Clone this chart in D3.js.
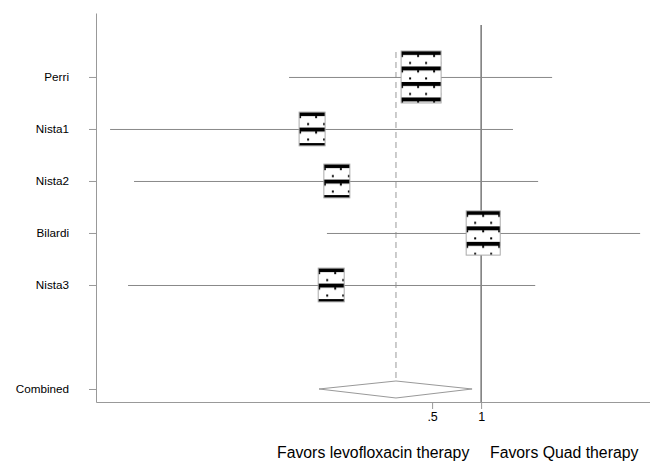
<!DOCTYPE html>
<html>
<head>
<meta charset="utf-8">
<script src="https://cdn.jsdelivr.net/npm/d3@7"></script>
<style>
    body { margin: 0; background: #fff; }
    text { font-family: "Liberation Sans", Arial, sans-serif; }
</style>
</head>
<body>
<svg></svg>
<script>
//study names, odds ratios, confidence limits and weights
const studies = ["Perri", "Nista1", "Nista2", "Bilardi", "Nista3"]
const estimates = [0.428, 0.0916, 0.130, 1.03, 0.120]
const lowerCI = [0.0661, 0.00526, 0.00738, 0.113, 0.00678]
const upperCI = [2.73, 1.57, 2.24, 9.48, 2.15]
const weights = [33.4, 14.1, 14.1, 24.2, 14.1]

//pooled estimate
const combinedLabel = "Combined"
const combined = [0.101, 0.300, 0.88]

const xTicks = [0.5, 1]
const xTickLabels = [".5", "1"]
const leftNote = "Favors levofloxacin therapy"
const rightNote = "Favors Quad therapy"

const svgWidth = 650
const svgHeight = 461

const svg = d3.select('svg')
    .attr("width", svgWidth)
    .attr("height", svgHeight)

// log scale for the ratios
const xScale = d3.scaleLog()
    .domain([0.00431, 10.9])
    .range([96, 650])

// rows: studies on 1..5, combined on row 7
const yScale = d3.scaleLinear()
    .domain([-0.23, 7.25])
    .range([13, 402])

const rows = studies.map((s, i) => ({
    name: s, est: estimates[i], lo: lowerCI[i], hi: upperCI[i], w: weights[i], row: i + 1
}))

//box side grows with sqrt of weight so area follows the weight
const sizeScale = d3.scaleSqrt()
    .domain([0, d3.max(weights)])
    .range([0, 40])

//no effect line
svg.append('line')
    .attr('x1', xScale(1)).attr('x2', xScale(1))
    .attr('y1', 25).attr('y2', yScale(7.25))
    .attr('stroke', '#333')
    .attr('stroke-width', 1)

//dashed line at the pooled estimate
svg.append('line')
    .attr('x1', xScale(combined[1])).attr('x2', xScale(combined[1]))
    .attr('y1', 52).attr('y2', yScale(7.25))
    .attr('stroke', '#999')
    .attr('stroke-dasharray', '6,4')

// axes
svg.append('g')
    .attr('transform', `translate(0, ${yScale(7.25)})`)
    .call(d3.axisBottom(xScale)
        .tickValues(xTicks)
        .tickFormat((d, i) => xTickLabels[i])
        .tickSize(7)
        .tickSizeOuter(0)
        .tickPadding(3))
    .call(g => g.select('.domain').attr('stroke', '#999'))
    .call(g => g.selectAll('.tick line').attr('stroke', '#999'))
    .call(g => g.selectAll('.tick text')
        .attr('font-size', 12.5)
        .attr('fill', '#000')
        .style('font-family', '"Liberation Sans", Arial, sans-serif'))

svg.append('g')
    .attr('transform', `translate(96, 0)`)
    .call(d3.axisLeft(yScale)
        .tickValues(rows.map(r => r.row).concat([7]))
        .tickFormat((d) => d === 7 ? combinedLabel : studies[d - 1])
        .tickSize(7)
        .tickSizeOuter(0)
        .tickPadding(20))
    .call(g => g.select('.domain').attr('stroke', '#999'))
    .call(g => g.selectAll('.tick line').attr('stroke', '#999'))
    .call(g => g.selectAll('.tick text')
        .attr('font-size', 11.7)
        .attr('fill', '#000')
        .style('font-family', '"Liberation Sans", Arial, sans-serif'))

//confidence interval lines
svg.selectAll('.ci')
    .data(rows)
    .enter()
    .append('line')
    .attr('class', 'ci')
    .attr('x1', d => xScale(d.lo))
    .attr('x2', d => xScale(d.hi))
    .attr('y1', d => yScale(d.row) + 0.5)
    .attr('y2', d => yScale(d.row) + 0.5)
    .attr('stroke', '#888')
    .attr('stroke-width', 1)

//one pattern per box so the stripes start at the box's top edge
const defs = svg.append('defs')
rows.forEach(function(d, i) {
    var side = sizeScale(d.w)
    var pat = defs.append('pattern')
        .attr('id', 'pat' + i)
        .attr('patternUnits', 'userSpaceOnUse')
        .attr('x', xScale(d.est) - side / 2)
        .attr('y', yScale(d.row) - side * 0.65)
        .attr('width', 16)
        .attr('height', 15.5)
    pat.append('rect').attr('width', 16).attr('height', 15.5).attr('fill', '#fff')
    pat.append('rect').attr('width', 16).attr('height', 4).attr('fill', '#000')
    pat.append('rect').attr('y', 4).attr('width', 2).attr('height', 2).attr('fill', '#000')
    pat.append('rect').attr('x', 8).attr('y', 11).attr('width', 2).attr('height', 2).attr('fill', '#000')
})

//weighted boxes
svg.selectAll('.box')
    .data(rows)
    .enter()
    .append('rect')
    .attr('class', 'box')
    .attr('x', d => xScale(d.est) - sizeScale(d.w) / 2)
    .attr('y', d => yScale(d.row) - sizeScale(d.w) * 0.65)
    .attr('width', d => sizeScale(d.w))
    .attr('height', d => sizeScale(d.w) * 1.3)
    .attr('fill', (d, i) => 'url(#pat' + i + ')')
    .attr('stroke', '#aaa')
    .attr('stroke-width', 1)

//pooled diamond
const cy = yScale(7)
svg.append('path')
    .attr('d', `M${xScale(combined[0])},${cy}L${xScale(combined[1])},${cy - 8}L${xScale(combined[2])},${cy}L${xScale(combined[1])},${cy + 9}Z`)
    .attr('fill', '#fff')
    .attr('stroke', '#999')
    .attr('stroke-width', 1)

//notes under the axis
svg.append('text')
    .attr('x', 277)
    .attr('y', 458)
    .attr('font-size', 15.8)
    .text(leftNote)

svg.append('text')
    .attr('x', 490)
    .attr('y', 458)
    .attr('font-size', 15.8)
    .text(rightNote)
</script>
</body>
</html>
